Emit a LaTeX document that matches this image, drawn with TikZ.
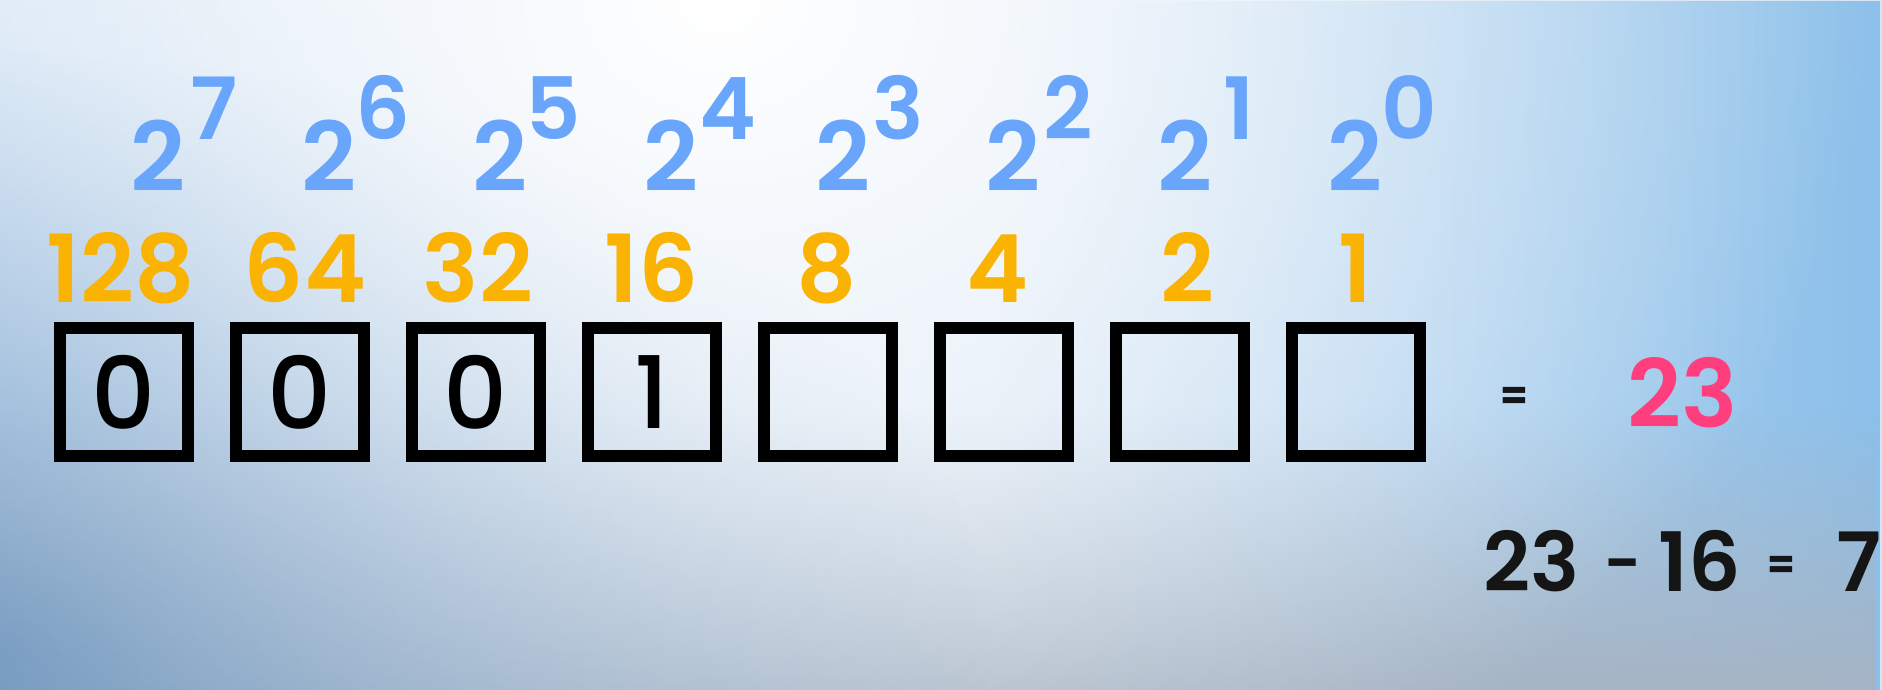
\documentclass[tikz,border=0pt]{standalone}
\usepackage{fontspec}
\setmainfont{Poppins}
\newfontfamily\popmed{Poppins Medium}
\newfontfamily\popsemi{Poppins SemiBold}
\usetikzlibrary{fadings}
\definecolor{pblue}{HTML}{68A5FB}
\definecolor{porange}{HTML}{FBB303}
\definecolor{ppink}{HTML}{FF3E7E}
\definecolor{pink}{HTML}{151515}
\definecolor{bgbase}{HTML}{D6E5F4}
\definecolor{bgright}{HTML}{8CC0EA}
\definecolor{bggray}{HTML}{A6B4C4}
\definecolor{bgbl}{HTML}{7097BF}
\definecolor{bgleft}{HTML}{A9CDF0}
\tikzfading[name=fadeleft, left color=transparent!100, right color=transparent!0]
\tikzfading[name=fadetop, top color=transparent!100, bottom color=transparent!0]
\tikzfading[name=glowfade, inner color=transparent!0, outer color=transparent!100]
\begin{document}
\begin{tikzpicture}[x=1pt,y=1pt,
  bitbox/.style={draw=black, line width=12pt, minimum width=128pt, minimum height=128pt, inner sep=0pt,
     font=\fontsize{100}{100}\selectfont\popmed, text=black},
  basetxt/.style={anchor=base, inner sep=0pt, text=pblue, font=\fontsize{96}{96}\selectfont\popsemi},
  exptxt/.style={anchor=base, inner sep=0pt, text=pblue, font=\fontsize{86}{86}\selectfont\popsemi},
  valtxt/.style={anchor=base, inner sep=0pt, text=porange, font=\fontsize{94}{94}\selectfont\popsemi},
  sumtxt/.style={anchor=base, inner sep=0pt, text=pink, font=\fontsize{82}{82}\selectfont\popsemi},
  eqtxt/.style={anchor=base, inner sep=0pt, text=pink, font=\fontsize{40}{40}\selectfont\bfseries}]
\useasboundingbox (0,0) rectangle (1882,690);
\begin{scope}
\clip (0,0) rectangle (1882,690);
\fill[bgbase] (0,0) rectangle (1882,690);
\fill[bgright, path fading=fadeleft] (1000,0) rectangle (1882,690);
\fill[bgleft, path fading=glowfade] (0,260) ellipse (700 and 500);
\fill[bggray, path fading=fadetop] (0,0) rectangle (1882,280);
\fill[bgbl, path fading=glowfade] (0,40) ellipse (1000 and 600);
\fill[white, path fading=glowfade] (720,690) ellipse (1150 and 950);
\end{scope}
% powers of two
\foreach \i/\bx/\ex/\e in {7/158/214/7, 6/329/383/6, 5/500/553/5, 4/671/728/4, 3/843/898/3, 2/1013/1068/2, 1/1185/1239/1, 0/1355/1409/0}{
  \node[basetxt] (b\i) at (\bx,498) {2};
  \node[exptxt] (e\i) at (\ex,550) {\e};
}
% place values
\foreach \v/\x in {128/121, 64/305, 32/478, 16/652, 8/827, 4/998, 2/1187, 1/1355}{
  \node[valtxt] (v\v) at (\x,387) {\v};
}
% bit boxes
\node[bitbox] (bit1) at (124,298) {0};
\node[bitbox] (bit2) at (300,298) {0};
\node[bitbox] (bit3) at (476,298) {0};
\node[bitbox] (bit4) at (652,298) {1};
\node[bitbox] (bit5) at (828,298) {};
\node[bitbox] (bit6) at (1004,298) {};
\node[bitbox] (bit7) at (1180,298) {};
\node[bitbox] (bit8) at (1356,298) {};
% result
\node[eqtxt] (eq1) at (1514,280) {=};
\node[anchor=base, inner sep=0pt, text=ppink, font=\fontsize{94}{94}\selectfont\popsemi] (res) at (1683,262) {23};
% subtraction
\node[sumtxt] (s1) at (1532,98) {23};
\node[sumtxt, font=\fontsize{64}{64}\selectfont\popsemi] (s2) at (1623,104) {-};
\node[sumtxt] (s3) at (1700,98) {16};
\node[eqtxt] (s4) at (1781,111) {=};
\node[sumtxt] (s5) at (1859,98) {7};
\end{tikzpicture}
\end{document}
